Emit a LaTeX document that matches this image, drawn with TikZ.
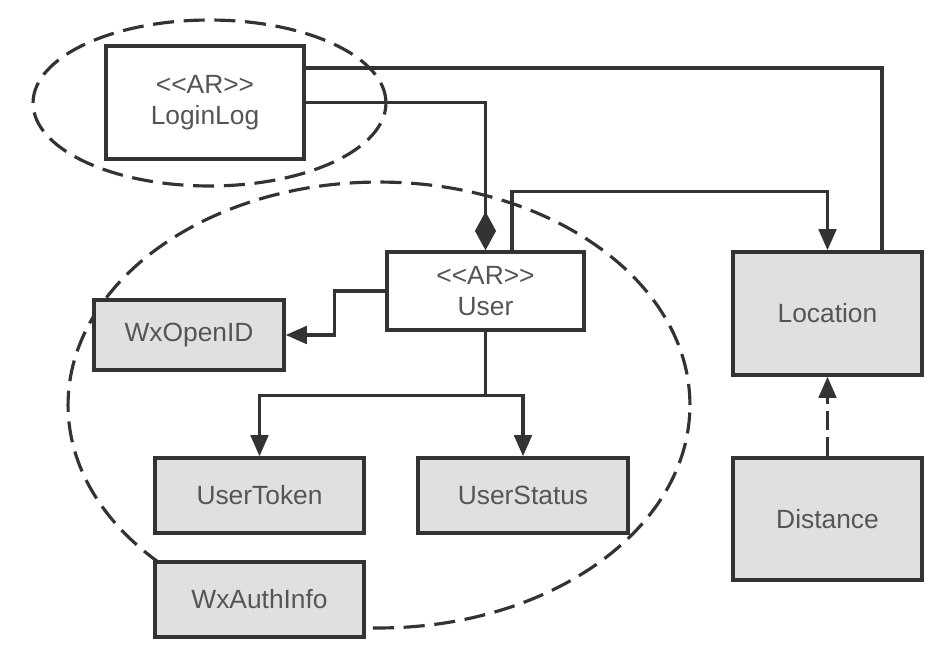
\documentclass[tikz,border=0pt]{standalone}
\usepackage{fontspec}
\setmainfont{Liberation Sans}
\usetikzlibrary{arrows.meta}
\definecolor{boxgray}{HTML}{E0E0E0}
\definecolor{linegray}{HTML}{333333}
\definecolor{textgray}{HTML}{555555}

\begin{document}
\begin{tikzpicture}[x=0.02cm,y=-0.02cm,
 every node/.style={font=\fontsize{15}{18}\selectfont,text=textgray},
 arbox/.style={draw=linegray,line width=2pt,fill=white,align=center},
 vobox/.style={draw=linegray,line width=2pt,fill=boxgray,align=center},
 grp/.style={draw=linegray,line width=1.8pt,dash pattern=on 12pt off 5.5pt},
 link/.style={draw=linegray,line width=1.8pt},
 arr/.style={link,-{Triangle[length=12pt,width=10pt]}},
 comp/.style={link,-{Diamond[length=22pt,width=12pt]}}]
\fill[white] (0,0) rectangle (948,653);
\useasboundingbox (0,0) rectangle (948,653);
% aggregate boundaries
\draw[grp] (209.5,103) ellipse [x radius=3.53cm,y radius=1.66cm];
\draw[grp] (379,405) ellipse [x radius=6.22cm,y radius=4.46cm];
% classes
\node[arbox,minimum width=3.96cm,minimum height=2.26cm] (loginlog) at (205,102.5) {<\kern0pt<AR>\kern0pt>\\LoginLog};
\node[arbox,minimum width=3.94cm,minimum height=1.56cm] (user) at (485.5,291) {<\kern0pt<AR>\kern0pt>\\User};
\node[vobox,minimum width=3.8cm,minimum height=1.4cm] (wxopenid) at (189,335) {WxOpenID};
\node[vobox,minimum width=4.18cm,minimum height=1.5cm] (usertoken) at (259.5,495.5) {UserToken};
\node[vobox,minimum width=4.2cm,minimum height=1.5cm] (userstatus) at (523,495.5) {UserStatus};
\node[vobox,minimum width=4.18cm,minimum height=1.5cm] (wxauthinfo) at (259.5,599.5) {WxAuthInfo};
\node[vobox,minimum width=3.78cm,minimum height=2.46cm] (location) at (827.5,313.5) {Location};
\node[vobox,minimum width=3.78cm,minimum height=2.44cm] (distance) at (827.5,519) {Distance};
% relations
\coordinate (split) at ([yshift=-1.28cm]user.south);
\draw[link] ([yshift=0.69cm]loginlog.east) -| ([xshift=1.09cm]location.north);
\draw[comp] (loginlog.east) -| (user.north);
\draw[arr] ([xshift=0.53cm]user.north) -- ++(0,-59) -| (location.north);
\draw[arr] (user.west) -- ++(-51,0) |- (wxopenid.east);
\draw[arr] (user.south) -- (split) -| (usertoken.north);
\draw[arr] (split) -| (userstatus.north);
\draw[arr,dash pattern=on 11pt off 4pt] (distance.north) -- (location.south);
\end{tikzpicture}
\end{document}
